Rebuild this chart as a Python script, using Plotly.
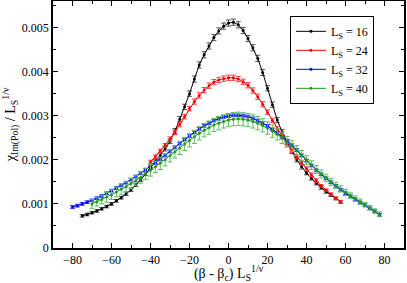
import plotly.graph_objects as go

# ---- data ----
x16 = [-75, -72.5, -70, -67.5, -65, -62.5, -60, -57.5, -55, -52.5, -50, -47.5, -45, -42.5, -40, -37.5,
       -35, -32.5, -30, -27.5, -25, -22.5, -20, -17.5, -15, -12.5, -10, -7.5, -5, -2.5, 0, 2.5, 5, 7.5,
       10, 12.5, 15, 17.5, 20, 22.5, 25, 27.5, 30, 32.5, 35, 37.5, 40, 42.5, 45, 47.5, 50, 52.5, 55, 57.5]
y16 = [0.00073, 0.00076, 0.00080, 0.00084, 0.00089, 0.00094, 0.00100, 0.00107, 0.00114, 0.00123, 0.00132,
       0.00143, 0.00155, 0.00168, 0.00182, 0.00196, 0.00210, 0.00225, 0.00242, 0.00265, 0.00292, 0.00320,
       0.00350, 0.00383, 0.00415, 0.00438, 0.00458, 0.00477, 0.00492, 0.00503, 0.00510, 0.00512, 0.00506,
       0.00493, 0.00475, 0.00454, 0.00430, 0.00398, 0.00362, 0.00325, 0.00290, 0.00263, 0.00240, 0.00219,
       0.00200, 0.00184, 0.00170, 0.00158, 0.00147, 0.00137, 0.00128, 0.00120, 0.00112, 0.00105]
e16 = [0.00003, 0.00003, 0.00003, 0.00003, 0.00003, 0.00003, 0.00003, 0.00003, 0.00003, 0.00004, 0.00004,
       0.00004, 0.00004, 0.00004, 0.00004, 0.00005, 0.00005, 0.00005, 0.00005, 0.00006, 0.00006, 0.00006,
       0.00006, 0.00007, 0.00007, 0.00007, 0.00007, 0.00007, 0.00007, 0.00007, 0.00007, 0.00007, 0.00007,
       0.00007, 0.00007, 0.00007, 0.00007, 0.00007, 0.00006, 0.00006, 0.00006, 0.00006, 0.00005, 0.00005,
       0.00005, 0.00005, 0.00004, 0.00004, 0.00004, 0.00004, 0.00004, 0.00003, 0.00003, 0.00003]

x24 = [-40, -37.5, -35, -32.5, -30, -27.5, -25, -22.5, -20, -17.5, -15, -12.5, -10, -7.5, -5, -2.5, 0,
       2.5, 5, 7.5, 10, 12.5, 15, 17.5, 20, 22.5, 25, 27.5, 30, 32.5, 35, 37.5, 40, 42.5, 45, 47.5, 50,
       52.5, 55, 57.5]
y24 = [0.00195, 0.00207, 0.00220, 0.00233, 0.00247, 0.00262, 0.00280, 0.00298, 0.00316, 0.00332, 0.00346,
       0.00358, 0.00368, 0.00376, 0.00381, 0.00384, 0.00386, 0.00386, 0.00383, 0.00377, 0.00369, 0.00357,
       0.00343, 0.00326, 0.00308, 0.00289, 0.00270, 0.00252, 0.00236, 0.00221, 0.00207, 0.00193, 0.00180,
       0.00166, 0.00153, 0.00141, 0.00131, 0.00122, 0.00113, 0.00104]
e24 = [0.00004, 0.00004, 0.00004, 0.00004, 0.00005, 0.00005, 0.00005, 0.00005, 0.00005, 0.00006, 0.00006,
       0.00006, 0.00006, 0.00006, 0.00006, 0.00006, 0.00006, 0.00006, 0.00006, 0.00006, 0.00006, 0.00006,
       0.00006, 0.00006, 0.00005, 0.00005, 0.00005, 0.00005, 0.00005, 0.00004, 0.00004, 0.00004, 0.00004,
       0.00004, 0.00004, 0.00003, 0.00003, 0.00003, 0.00003, 0.00003]

x32 = [-80, -77.5, -75, -72.5, -70, -67.5, -65, -62.5, -60, -57.5, -55, -52.5, -50, -47.5, -45, -42.5,
       -40, -37.5, -35, -32.5, -30, -27.5, -25, -22.5, -20, -17.5, -15, -12.5, -10, -7.5, -5, -2.5, 0,
       2.5, 5, 7.5, 10, 12.5, 15, 17.5, 20, 22.5, 25, 27.5, 30, 32.5, 35, 37.5, 40, 42.5, 45, 47.5, 50,
       52.5, 55, 57.5, 60, 62.5, 65, 67.5, 70, 72.5, 75, 77.5]
y32 = [0.00093, 0.00096, 0.00100, 0.00104, 0.00108, 0.00113, 0.00118, 0.00124, 0.00130, 0.00136, 0.00142,
       0.00148, 0.00155, 0.00162, 0.00170, 0.00177, 0.00185, 0.00193, 0.00201, 0.00210, 0.00219, 0.00228,
       0.00237, 0.00246, 0.00254, 0.00262, 0.00270, 0.00277, 0.00283, 0.00289, 0.00293, 0.00297, 0.00299,
       0.00301, 0.00301, 0.00300, 0.00298, 0.00294, 0.00289, 0.00283, 0.00277, 0.00269, 0.00261, 0.00252,
       0.00243, 0.00233, 0.00222, 0.00210, 0.00198, 0.00187, 0.00176, 0.00167, 0.00158, 0.00149, 0.00141,
       0.00132, 0.00124, 0.00117, 0.00110, 0.00103, 0.00097, 0.00090, 0.00083, 0.00075]
e32 = [0.00003, 0.00003, 0.00003, 0.00003, 0.00003, 0.00003, 0.00003, 0.00003, 0.00003, 0.00003, 0.00003,
       0.00003, 0.00003, 0.00003, 0.00003, 0.00003, 0.00003, 0.00003, 0.00003, 0.00003, 0.00003, 0.00003,
       0.00003, 0.00003, 0.00003, 0.00003, 0.00003, 0.00003, 0.00003, 0.00003, 0.00003, 0.00003, 0.00003,
       0.00003, 0.00003, 0.00003, 0.00003, 0.00003, 0.00003, 0.00003, 0.00003, 0.00003, 0.00003, 0.00003,
       0.00003, 0.00003, 0.00003, 0.00003, 0.00003, 0.00003, 0.00003, 0.00003, 0.00003, 0.00003, 0.00003,
       0.00003, 0.00003, 0.00003, 0.00003, 0.00003, 0.00003, 0.00003, 0.00003, 0.00003]

x40 = [-70, -67.5, -65, -62.5, -60, -57.5, -55, -52.5, -50, -47.5, -45, -42.5, -40, -37.5, -35, -32.5,
       -30, -27.5, -25, -22.5, -20, -17.5, -15, -12.5, -10, -7.5, -5, -2.5, 0, 2.5, 5, 7.5, 10, 12.5, 15,
       17.5, 20, 22.5, 25, 27.5, 30, 32.5, 35, 37.5, 40, 42.5, 45, 47.5, 50, 52.5, 55, 57.5, 60, 62.5, 65,
       67.5, 70, 72.5, 75, 77.5]
y40 = [0.00100, 0.00105, 0.00110, 0.00115, 0.00121, 0.00127, 0.00133, 0.00139, 0.00146, 0.00153, 0.00160,
       0.00168, 0.00176, 0.00184, 0.00192, 0.00200, 0.00209, 0.00218, 0.00227, 0.00236, 0.00244, 0.00252,
       0.00260, 0.00267, 0.00273, 0.00279, 0.00283, 0.00287, 0.00290, 0.00292, 0.00293, 0.00292, 0.00290,
       0.00287, 0.00283, 0.00278, 0.00272, 0.00265, 0.00258, 0.00250, 0.00241, 0.00231, 0.00221, 0.00210,
       0.00199, 0.00188, 0.00178, 0.00168, 0.00159, 0.00150, 0.00142, 0.00134, 0.00126, 0.00119, 0.00112,
       0.00105, 0.00098, 0.00091, 0.00084, 0.00077]
e40 = [0.00010, 0.00010, 0.00010, 0.00011, 0.00011, 0.00011, 0.00012, 0.00012, 0.00012, 0.00012, 0.00013,
       0.00013, 0.00013, 0.00013, 0.00014, 0.00014, 0.00014, 0.00014, 0.00015, 0.00015, 0.00015, 0.00015,
       0.00015, 0.00015, 0.00015, 0.00015, 0.00015, 0.00015, 0.00015, 0.00015, 0.00015, 0.00015, 0.00015,
       0.00015, 0.00015, 0.00015, 0.00014, 0.00014, 0.00013, 0.00013, 0.00012, 0.00012, 0.00011, 0.00011,
       0.00010, 0.00010, 0.00009, 0.00009, 0.00008, 0.00008, 0.00007, 0.00007, 0.00007, 0.00006, 0.00006,
       0.00006, 0.00005, 0.00005, 0.00005, 0.00005]

series_names = ["L<sub>S</sub> = 16", "L<sub>S</sub> = 24", "L<sub>S</sub> = 32", "L<sub>S</sub> = 40"]
x_ticks = [-80, -60, -40, -20, 0, 20, 40, 60, 80]
y_ticks = [0, 0.001, 0.002, 0.003, 0.004, 0.005]
y_tick_labels = ["0", "0.001", "0.002", "0.003", "0.004", "0.005"]

SERIF = "Liberation Serif, Times New Roman, serif"

fig = go.Figure()
specs = [
    (x16, y16, e16, "#000000", "#555555"),
    (x24, y24, e24, "#ff0000", "#ff4040"),
    (x32, y32, e32, "#0000ff", "#3030ff"),
    (x40, y40, e40, "#1e9a1e", "#5cc05c"),
]
for (xs, ys, es, col, ecol), name in zip(specs, series_names):
    fig.add_trace(go.Scatter(
        x=xs, y=ys, name=name, mode="lines+markers",
        line=dict(color=col, width=1),
        marker=dict(color=col, size=3, symbol="circle"),
        error_y=dict(type="data", array=es, visible=True, color=ecol, thickness=1, width=2.5),
    ))

axis_common = dict(
    showline=True, linecolor="black", linewidth=1.5, mirror="allticks",
    ticks="inside", ticklen=5, tickcolor="black", tickwidth=1,
    showgrid=False, zeroline=False, automargin=False,
    tickfont=dict(family=SERIF, size=12, color="black"),
)
fig.update_xaxes(
    range=[-90, 90], tickvals=x_ticks,
    minor=dict(dtick=10, ticks="inside", ticklen=3, tickcolor="black", showgrid=False),
    title=dict(text="(β - β<sub>c</sub>) L<sub>S</sub><sup>1/ν</sup>",
               font=dict(family=SERIF, size=14, color="black"), standoff=4),
    **axis_common,
)
fig.update_yaxes(
    range=[0, 0.0056], tickvals=y_ticks, ticktext=y_tick_labels,
    minor=dict(dtick=0.0005, ticks="inside", ticklen=3, tickcolor="black", showgrid=False),
    title=dict(text="χ<sub>Im(Pol)</sub> / L<sub>S</sub><sup>1/ν</sup>",
               font=dict(family=SERIF, size=14, color="black"), standoff=4),
    **axis_common,
)
fig.update_layout(
    width=407, height=283,
    margin=dict(l=53, r=3, t=1, b=35),
    paper_bgcolor="white", plot_bgcolor="white",
    font=dict(family=SERIF, color="black"),
    legend=dict(
        x=0.675, y=0.94, xanchor="left", yanchor="top",
        bgcolor="white", bordercolor="black", borderwidth=1,
        font=dict(family=SERIF, size=12, color="black"),
        tracegroupgap=0, itemwidth=30,
    ),
)
fig.write_html("out.html", config={"displayModeBar": False},
               post_script="document.body.style.margin='0';document.body.style.padding='0';")
